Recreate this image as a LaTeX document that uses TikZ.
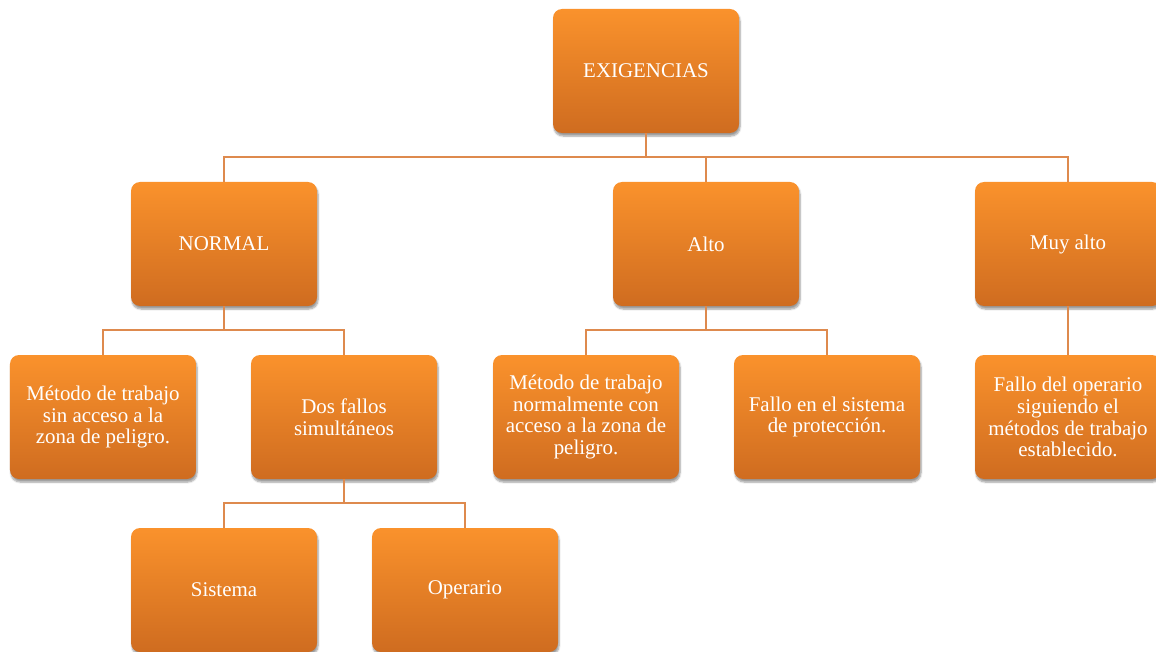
\documentclass[tikz,border=0pt]{standalone}
\usepackage{fontspec}
\setmainfont{Liberation Serif}
\usetikzlibrary{shadows.blur}

\definecolor{boxtop}{RGB}{250,146,44}
\definecolor{boxbot}{RGB}{207,108,32}
\definecolor{linkline}{RGB}{222,138,78}

\tikzset{
  levelbox/.style={rounded corners=9bp, minimum width=186bp, minimum height=124bp,
    inner sep=0pt, top color=boxtop, bottom color=boxbot, draw=none, text=white,
    align=center, font=\fontsize{21}{22}\selectfont,
    blur shadow={shadow xshift=1bp, shadow yshift=-3bp, shadow blur steps=6, shadow opacity=40}},
  link/.style={linkline, line width=1.6bp}
}

\begin{document}
\begin{tikzpicture}[x=1bp,y=-1bp]
        \useasboundingbox (0,0) rectangle (1156,652);
        % top
        \node[levelbox] (exig) at (646,71) {EXIGENCIAS};
        % first level
        \node[levelbox] (normal) at (224,244) {NORMAL};
        \node[levelbox] (alto) at (706,244) {Alto};
        \node[levelbox] (muyalto) at (1068,244) {Muy alto};
        % second level
        \node[levelbox] (sinacceso) at (103,417) {Método de trabajo\\sin acceso a la\\zona de peligro.};
        \node[levelbox] (dosfallos) at (344,417) {Dos fallos\\simultáneos};
        \node[levelbox] (conacceso) at (586,417) {Método de trabajo\\normalmente con\\acceso a la zona de\\peligro.};
        \node[levelbox] (proteccion) at (827,417) {Fallo en el sistema\\de protección.};
        \node[levelbox] (operario) at (1068,417) {Fallo del operario\\siguiendo el\\métodos de trabajo\\establecido.};
        % third level
        \node[levelbox] (sistema) at (224,590) {Sistema};
        \node[levelbox] (oper) at (465,590) {Operario\vphantom{S}};

        \draw[link] (exig.south) -- ++(0,24) coordinate (bus1);
        \draw[link] (normal.north) |- (bus1) -| (muyalto.north);
        \draw[link] (alto.north) -- (alto.north |- bus1);

        \draw[link] (normal.south) -- ++(0,24) coordinate (bus2);
        \draw[link] (sinacceso.north) |- (bus2) -| (dosfallos.north);

        \draw[link] (alto.south) -- ++(0,24) coordinate (bus3);
        \draw[link] (conacceso.north) |- (bus3) -| (proteccion.north);

        \draw[link] (muyalto.south) -- (operario.north);

        \draw[link] (dosfallos.south) -- ++(0,24) coordinate (bus4);
        \draw[link] (sistema.north) |- (bus4) -| (oper.north);
    \end{tikzpicture}
\end{document}
